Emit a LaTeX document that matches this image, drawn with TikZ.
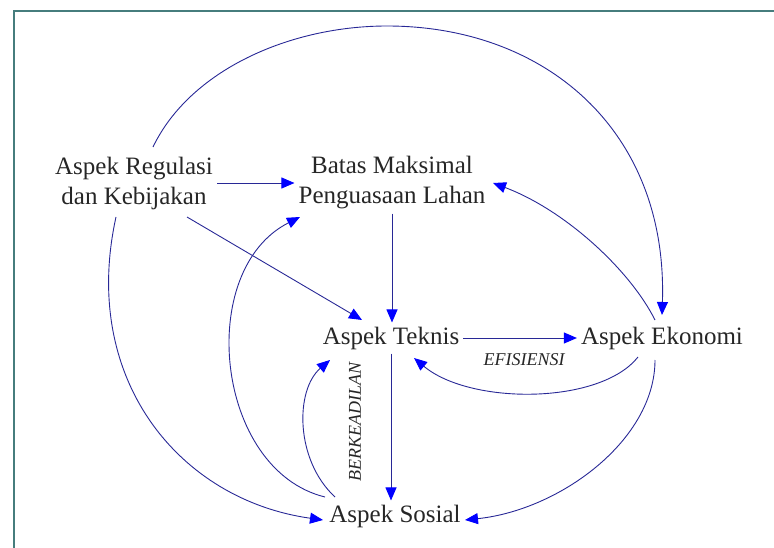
\documentclass[tikz,border=0pt]{standalone}
\usepackage{fontspec}
\setmainfont{Liberation Serif}
\newfontfamily\timesfont{Liberation Serif}
\usetikzlibrary{arrows.meta,calc}
\definecolor{linkblue}{RGB}{40,40,150}
\definecolor{framegreen}{RGB}{70,125,125}

\begin{document}
\begin{tikzpicture}[x=1pt,y=-1pt,
    aspek/.style={inner sep=4pt,align=center,text=black!85,font=\timesfont\fontsize{25}{30}\selectfont},
    link/.style={draw=linkblue,line width=0.9pt,-{Triangle[length=13pt,width=11pt,color=blue]}},
    tag/.style={text=black!85,font=\timesfont\fontsize{18}{20}\selectfont\itshape,inner sep=1pt}]
        \useasboundingbox (0,0) rectangle (774,548);
        % Frame
        \draw[framegreen,line width=2pt] (14,548) -- (14,11) -- (774,11);

        % Aspects
        \node[aspek] (reg) at (134,183) {Aspek Regulasi\\dan Kebijakan};
        \node[aspek] (batas) at (392,183) {Batas Maksimal\\Penguasaan Lahan};
        \node[aspek] (tek) at (391,338) {Aspek Teknis};
        \node[aspek] (eko) at (662,338) {Aspek Ekonomi};
        \node[aspek] (sos) at (395,516) {Aspek Sosial};

        % Straight links
        \draw[link] (reg) -- (batas);
        \draw[link] ($(reg)+(53,34)$) -- ($(tek)+(-29,-18)$);
        \draw[link] (batas.south) -- (batas.south |- tek.north);
        \draw[link] (tek) -- (eko);
        \draw[link] (tek.south) -- (tek.south |- sos.north);

        % Curved links
        \draw[link] ($(reg)+(19,-36)$) .. controls (190,70) and (290,26) .. (387,26)
            .. controls (545,26) and (668,130) .. ($(eko)+(0,-23)$);
        \draw[link] ($(reg)+(-18,34)$) .. controls (80,380) and (180,500) .. ($(sos)+(-72,4)$);
        \draw[link] ($(sos)+(-70,-19)$) .. controls (215,470) and (195,270) .. ($(batas)+(-92,34)$);
        \draw[link] ($(sos)+(-60,-19)$) .. controls (295,460) and (295,390) .. ($(tek)+(-61,22)$);
        \draw[link] ($(eko)+(-7,-18)$) .. controls (630,270) and (565,210) .. ($(batas)+(101,0)$);
        \draw[link] ($(eko)+(-24,19)$) .. controls (600,405) and (470,405) .. ($(tek)+(23,20)$);
        \draw[link] ($(eko)+(-7,22)$) .. controls (655,440) and (560,510) .. ($(sos)+(70,4)$);

        % Labels
        \node[tag] (efisiensi) at (524,360) {EFISIENSI};
        \node[tag,rotate=90] (adil) at (355,422) {BERKEADILAN};
\end{tikzpicture}
\end{document}
